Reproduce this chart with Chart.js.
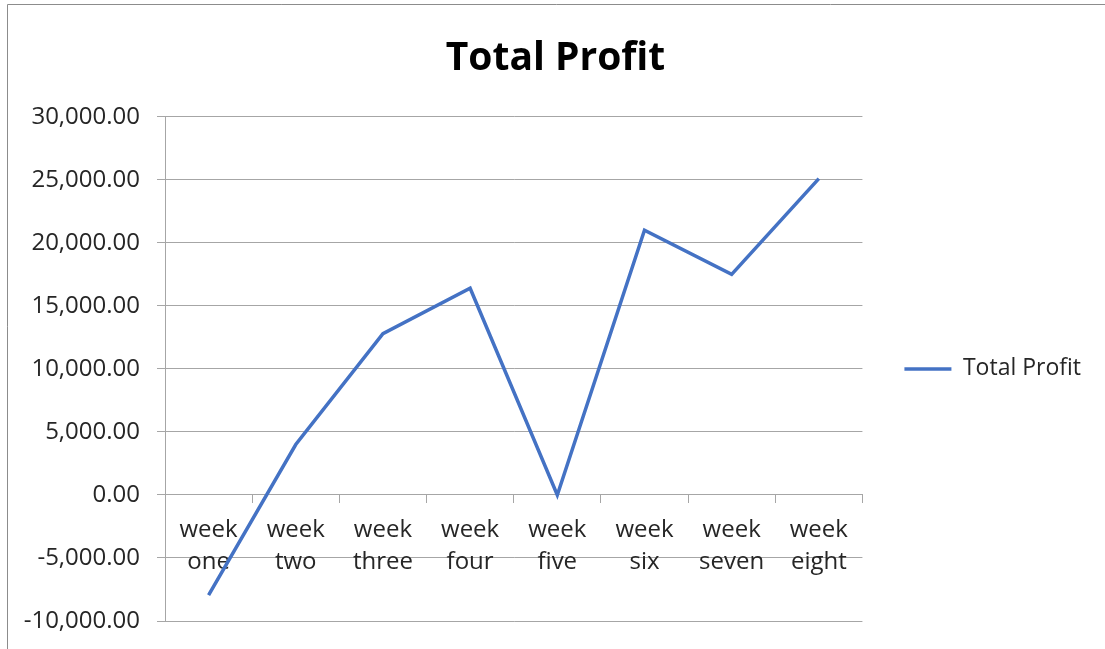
<!DOCTYPE html>
<html>
<head>
<meta charset="utf-8">
<script src="https://cdn.jsdelivr.net/npm/chart.js@4.4.1/dist/chart.umd.min.js"></script>
<style>
  html, body { margin: 0; padding: 0; background: #ffffff; }
  #wrap { width: 1105px; height: 649px; }
</style>
</head>
<body>
<div id="wrap"><canvas id="c" width="1105" height="649"></canvas></div>
<script>
const categories = [["week","one"],["week","two"],["week","three"],["week","four"],["week","five"],["week","six"],["week","seven"],["week","eight"]];
const seriesName = "Total Profit";
const profitValues = [-7950, 4000, 12800, 16400, 0, 21000, 17500, 25100];
const yMin = -10000;
const yMax = 30000;
const yStep = 5000;

const FONT = "'Open Sans', 'Liberation Sans', sans-serif";
const GRID = '#a6a6a6';
const TEXT = '#262626';

const borderPlugin = {
  id: 'frame',
  beforeDraw(chart) {
    const ctx = chart.ctx;
    ctx.save();
    ctx.fillStyle = '#ffffff';
    ctx.fillRect(0, 0, chart.width, chart.height);
    ctx.strokeStyle = '#8c8c8c';
    ctx.lineWidth = 1;
    ctx.beginPath();
    ctx.moveTo(7.5, chart.height);
    ctx.lineTo(7.5, 4.5);
    ctx.lineTo(chart.width, 4.5);
    ctx.stroke();
    ctx.restore();
  }
};

new Chart(document.getElementById('c'), {
  type: 'line',
  data: {
    labels: categories,
    datasets: [{
      label: seriesName,
      data: profitValues,
      borderColor: '#4472C4',
      backgroundColor: '#4472C4',
      borderWidth: 3.5,
      pointRadius: 0,
      pointHoverRadius: 0,
      tension: 0,
      fill: false
    }]
  },
  options: {
    responsive: false,
    animation: false,
    layout: { padding: { left: 20, right: 14, top: 0, bottom: 28 } },
    plugins: {
      legend: {
        display: true,
        position: 'right',
        align: 'center',
        fullSize: false,
        labels: {
          usePointStyle: true,
          pointStyle: 'line',
          pointStyleWidth: 47,
          boxHeight: 23,
          padding: 42,
          color: TEXT,
          font: { family: FONT, size: 23 }
        }
      },
      tooltip: { enabled: false },
      title: {
        display: true,
        text: seriesName,
        color: '#000000',
        font: { family: FONT, size: 39, weight: 'bold', lineHeight: 1.2 },
        padding: { top: 35, bottom: 35 }
      }
    },
    scales: {
      x: {
        type: 'category',
        position: { y: 0 },
        offset: true,
        grid: {
          display: true,
          offset: true,
          drawOnChartArea: false,
          drawTicks: true,
          tickLength: 8,
          color: GRID,
          lineWidth: 1
        },
        border: { display: true, color: GRID, width: 1 },
        ticks: {
          color: TEXT,
          font: { family: FONT, size: 24, lineHeight: 1.33 },
          padding: 11,
          maxRotation: 0,
          autoSkip: false
        }
      },
      y: {
        min: yMin,
        max: yMax,
        afterFit(scale) { scale.width = 145; },
        grid: {
          color: GRID,
          lineWidth: 1,
          drawTicks: true,
          tickLength: 8
        },
        border: { display: true, color: GRID, width: 1 },
        ticks: {
          stepSize: yStep,
          color: TEXT,
          padding: 17,
          font: { family: FONT, size: 24, lineHeight: 0.8 },
          callback: (v) => Number(v).toLocaleString('en-US', { minimumFractionDigits: 2, maximumFractionDigits: 2 })
        }
      }
    }
  },
  plugins: [borderPlugin]
});
</script>
</body>
</html>
